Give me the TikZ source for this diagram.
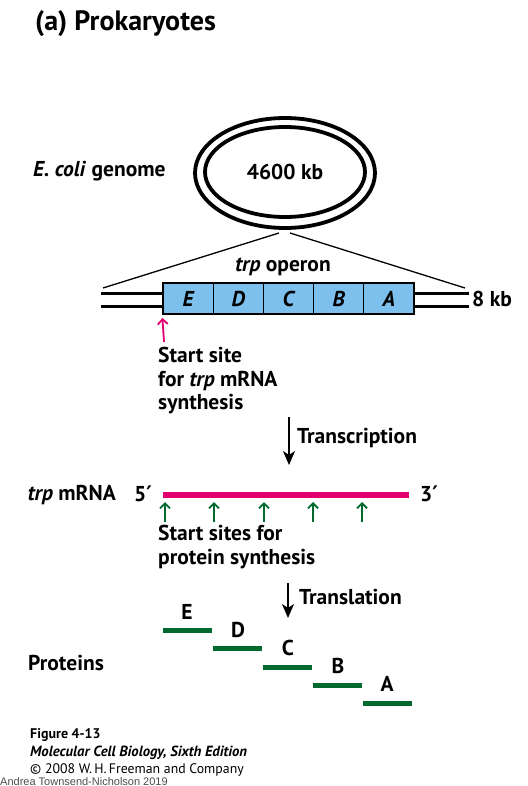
\documentclass[tikz,border=0pt]{standalone}
\usepackage{fontspec}
\setmainfont{PT Sans}
\newfontfamily\capfont{Liberation Sans}
\newfontfamily\primefont{DejaVu Sans}
\usetikzlibrary{shapes.geometric,arrows.meta}
\definecolor{genblue}{RGB}{125,192,238}
\definecolor{rnapink}{RGB}{226,0,110}
\definecolor{protgreen}{RGB}{0,105,45}
\newcommand{\prm}{{\primefont\bfseries ′}}

\begin{document}
\begin{tikzpicture}[x=1pt, y=-1pt,
	lbl/.style={font=\bfseries\fontsize{21.5}{24}\selectfont, inner sep=0pt},
	gene/.style={draw, line width=1.2pt, fill=genblue, minimum width=50.2pt, minimum height=31pt, inner sep=0pt, font=\bfseries\itshape\fontsize{21.5}{24}\selectfont},
	ring/.style={draw, ellipse, line width=3.8pt, inner sep=0pt},
	dna/.style={line width=3pt},
	site/.style={protgreen, line width=1.8pt, -{Straight Barb[length=5pt, width=10pt, line width=1.8pt]}},
	step arrow/.style={line width=1.8pt, -{Stealth[length=14pt, width=12pt, inset=4pt]}},
	prot/.style={protgreen, line width=5pt}]
\useasboundingbox (0,0) rectangle (527,786);

	%Overskrift og genom
	\node[font=\bfseries\fontsize{28}{32}\selectfont, inner sep=0pt, anchor=base west] (title) at (35,31) {(a) Prokaryotes};
	\node[lbl, anchor=west] (genome) at (33,171) {\textit{E. coli} genome};
	\node[ring, minimum width=180pt, minimum height=110pt] (outer) at (285,173) {};
	\node[ring, minimum width=160pt, minimum height=90pt, lbl] (inner) at (285,172) {4600 kb};

	%Operon
	\node[gene] (gE) at (188.1,298.5) {E};
	\node[gene] (gD) at (238.3,298.5) {D};
	\node[gene] (gC) at (288.5,298.5) {C};
	\node[gene] (gB) at (338.7,298.5) {B};
	\node[gene] (gA) at (388.9,298.5) {A};
	\node[lbl] (operon) at (283,267) {\textit{trp} operon};
	\node[lbl, anchor=west] (size) at (472,299) {8 kb};

	\coordinate (zl) at (279,233);
	\coordinate (zr) at (290,233);
	\coordinate (ll) at (103,288);
	\coordinate (rr) at (465,288);
	\draw[line width=1.3pt] (zl) -- (ll);
	\draw[line width=1.3pt] (zr) -- (rr);

	\coordinate (dl1) at (101,293);
	\coordinate (dl2) at (101,306);
	\coordinate (dr1) at (469,293);
	\coordinate (dr2) at (469,306);
	\draw[dna] (dl1) -- (dl1 -| gE.west);
	\draw[dna] (dl2) -- (dl2 -| gE.west);
	\draw[dna] (dr1) -- (dr1 -| gA.east);
	\draw[dna] (dr2) -- (dr2 -| gA.east);

	%Transkripsjon
	\coordinate (ps) at (164,342);
	\draw[rnapink, line width=1.8pt, -{Straight Barb[length=5pt, width=10pt, line width=1.8pt]}] (ps) -- (gE.south west |- 0,318);
	\node[lbl, anchor=north west, align=left, font=\bfseries\fontsize{21.5}{23.5}\selectfont] (tsite) at (158,347) {Start site\\for \textit{trp} mRNA\\synthesis};
	\coordinate (ta) at (289,417);
	\coordinate (tb) at (289,465);
	\draw[step arrow] (ta) -- (tb);
	\node[lbl, anchor=west] (transcr) at (297,438) {Transcription};

	%mRNA
	\coordinate (m5) at (163,495);
	\coordinate (m3) at (409,495);
	\draw[rnapink, line width=5.5pt] (m5) -- (m3);
	\node[lbl, anchor=east] (mrna) at (116,495) {\textit{trp} mRNA};
	\node[lbl] (five) at (143,494) {5\prm};
	\node[lbl] (three) at (429,494) {3\prm};
	\coordinate (s1) at (165,522);
	\coordinate (s2) at (214,522);
	\coordinate (s3) at (264,522);
	\coordinate (s4) at (313,522);
	\coordinate (s5) at (362,522);
	\draw[site] (s1) -- ++(0,-20);
	\draw[site] (s2) -- ++(0,-20);
	\draw[site] (s3) -- ++(0,-20);
	\draw[site] (s4) -- ++(0,-20);
	\draw[site] (s5) -- ++(0,-20);
	\node[lbl, anchor=north west, align=left, font=\bfseries\fontsize{21.5}{23.5}\selectfont] (psite) at (158,525) {Start sites for\\protein synthesis};

	%Translasjon
	\coordinate (la) at (288,583);
	\coordinate (lb) at (288,618);
	\draw[step arrow] (la) -- (lb);
	\node[lbl, anchor=west] (transl) at (299,597) {Translation};

	%Proteiner
	\node[lbl, anchor=west] (proteins) at (28,663) {Proteins};
	\coordinate (pE) at (163,630);
	\coordinate (pD) at (213,648);
	\coordinate (pC) at (263,667);
	\coordinate (pB) at (313,685);
	\coordinate (pA) at (363,703);
	\draw[prot] (pE) -- ++(49,0);
	\draw[prot] (pD) -- ++(49,0);
	\draw[prot] (pC) -- ++(49,0);
	\draw[prot] (pB) -- ++(49,0);
	\draw[prot] (pA) -- ++(49,0);
	\node[lbl] (lE) at (187,612) {E};
	\node[lbl] (lD) at (238,630) {D};
	\node[lbl] (lC) at (288,648) {C};
	\node[lbl] (lB) at (338,666) {B};
	\node[lbl] (lA) at (387,684) {A};

	%Bildetekst
	\node[font=\bfseries\fontsize{14}{16}\selectfont, inner sep=0pt, anchor=base west] (fig) at (30,738) {Figure 4-13};
	\node[font=\bfseries\itshape\fontsize{14.7}{16}\selectfont, inner sep=0pt, anchor=base west] (book) at (30,756) {Molecular Cell Biology, Sixth Edition};
	\node[font=\fontsize{13.8}{16}\selectfont, inner sep=0pt, anchor=base west] (copy) at (30,773) {© 2008 W.\,H.\,Freeman and Company};
	\node[font=\capfont\fontsize{11}{12}\selectfont, text=black!70, inner sep=0pt, anchor=base west] (author) at (0,785) {Andrea Townsend-Nicholson 2019};
\end{tikzpicture}
\end{document}
